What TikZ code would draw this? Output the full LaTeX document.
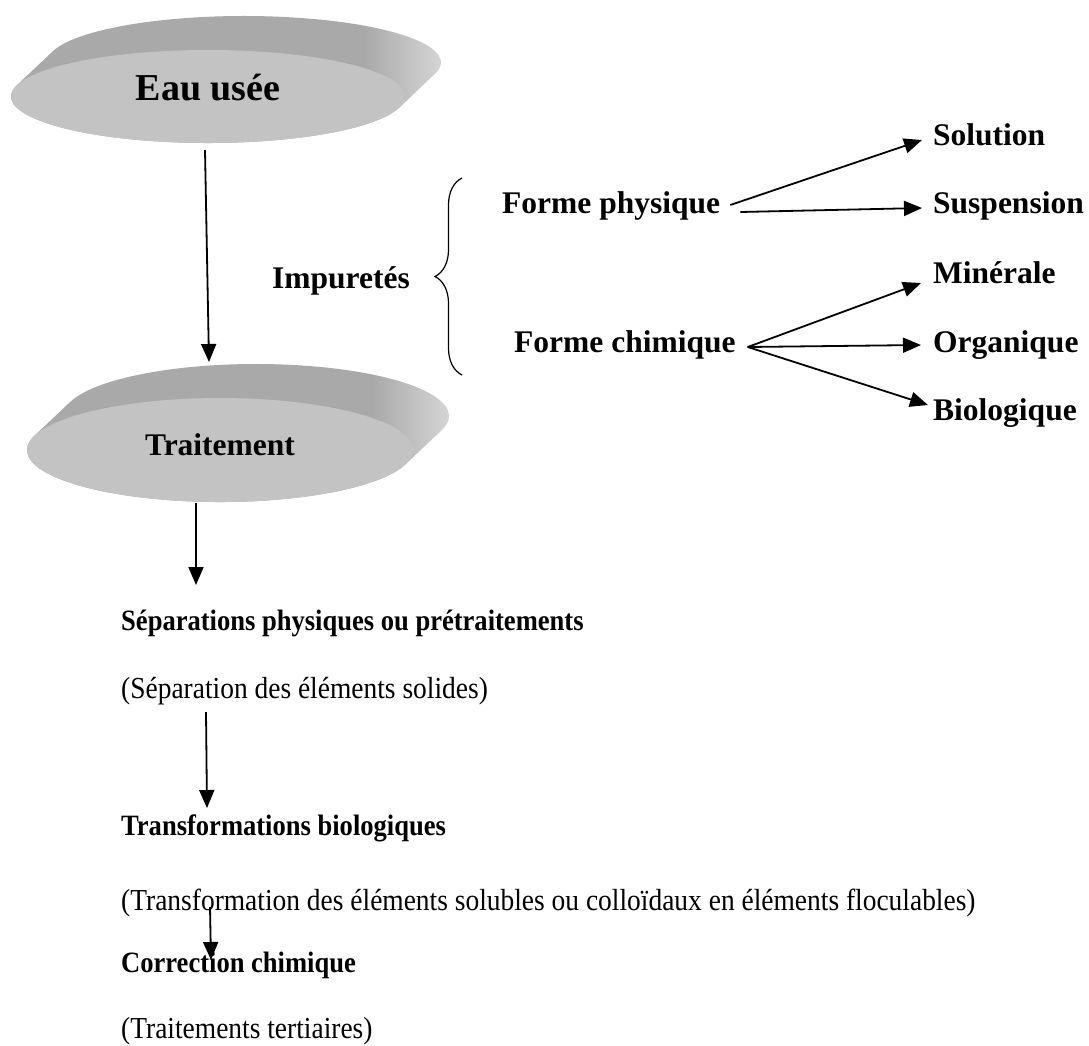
\documentclass[tikz,border=0pt]{standalone}
\usepackage{fontspec}
\setmainfont{Liberation Serif}
\newfontfamily\serre[FakeStretch=0.9]{Liberation Serif}
\usetikzlibrary{arrows.meta}
\usetikzlibrary{decorations.pathreplacing}
\definecolor{grisbord}{HTML}{A9A9A9}
\definecolor{grisclair}{HTML}{DADADA}
\definecolor{grisdessus}{HTML}{C3C3C3}
% disque en relief : centre x, centre y, rayon x, rayon y
\newcommand{\disque}[4]{%
  \pgfmathsetmacro\angt{atan(-(#4*36)/(#3*34))}
  \pgfmathsetmacro\angb{\angt+180}
  \pgfmathsetmacro\ange{\angt+360}
  \begin{scope}
  \path[clip] (#1,#2) ++(\angb:#3 and #4)
     arc[start angle=\angb, end angle=\ange, x radius=#3, y radius=#4] -- ++(36,34)
     arc[start angle=\angt, end angle=\angb, x radius=#3, y radius=#4] -- cycle;
  \fill[grisbord] (#1-#3-10,#2-#4-10) rectangle (#1+#3-40,#2+#4+50);
  \shade[left color=grisbord, right color=grisclair] (#1+#3-41,#2-#4-10) rectangle (#1+#3+45,#2+#4+50);
  \end{scope}
  \fill[grisdessus] (#1,#2) ellipse[x radius=#3, y radius=#4];
}

\begin{document}
\begin{tikzpicture}[x=1pt,y=1pt,
  fleche/.style={line width=1.8pt,-{Triangle[length=18pt,width=15pt]}},
  etiquette/.style={font=\bfseries\fontsize{31.5}{36}\selectfont, inner sep=0pt, text height=22pt, text depth=6pt, anchor=west},
  corps/.style={font=\serre\fontsize{30.5}{34}\selectfont, inner sep=0pt, anchor=base west},
  corpsgras/.style={font=\serre\bfseries\fontsize{29.5}{34}\selectfont, inner sep=0pt, anchor=base west}]
\useasboundingbox (0,0) rectangle (1089,-1045);

% les deux disques
\disque{208}{-96.5}{197}{46.5}
\disque{220}{-450}{193}{52}
\node[font=\bfseries\fontsize{38}{44}\selectfont, text height=26pt, text depth=7pt] (eau) at (208,-91) {Eau usée};
\node[etiquette, anchor=center] (traitement) at (220,-447) {Traitement};

% impuretes
\node[etiquette] (impuretes) at (272,-280) {Impuretés};
\draw[decorate, decoration={brace, amplitude=27pt}, line width=1.2pt] (462,-375) -- (462,-178);
\node[etiquette] (fphys) at (502,-205) {Forme physique};
\node[etiquette] (fchim) at (514,-344) {Forme chimique};
\node[etiquette] (solution) at (933,-137) {Solution};
\node[etiquette] (suspension) at (933,-205) {Suspension};
\node[etiquette] (minerale) at (933,-275) {Minérale};
\node[etiquette] (organique) at (933,-344) {Organique};
\node[etiquette] (biologique) at (933,-412) {Biologique};

\draw[fleche] ([xshift=10pt]fphys.east) -- ([shift={(-11pt,-3pt)}]solution.west);
\draw[fleche] ([shift={(20pt,-7pt)}]fphys.east) -- ([shift={(-11pt,-3pt)}]suspension.west);
\draw[fleche] ([shift={(12pt,-3pt)}]fchim.east) -- ([shift={(-12pt,-8pt)}]minerale.west);
\draw[fleche] ([shift={(12pt,-3pt)}]fchim.east) -- ([shift={(-12pt,-1pt)}]organique.west);
\draw[fleche] ([shift={(12pt,-3pt)}]fchim.east) -- ([shift={(-5pt,7pt)}]biologique.west);

% etapes du traitement
\node[corpsgras] (sepphys) at (121,-630) {Séparations physiques ou prétraitements};
\node[corps] (sepsol) at (121,-698) {(Séparation des éléments solides)};
\node[corpsgras] (transbio) at (121,-835) {Transformations biologiques};
\node[corps] (transsol) at (121,-910) {(Transformation des éléments solubles ou colloïdaux en éléments floculables)};
\node[corpsgras] (corrchim) at (121,-972) {Correction chimique};
\node[corps] (tertiaire) at (121,-1038) {(Traitements tertiaires)};

\coordinate (eaubas) at (205,-150);
\coordinate (traithaut) at (209,-362);
\coordinate (traitbas) at (196,-503);
\coordinate (sephaut) at (196,-585);
\coordinate (solbas) at (206,-712);
\coordinate (biohaut) at (207,-808);
\coordinate (floc) at (210,-907);
\coordinate (chimhaut) at (211,-960);
\draw[fleche] (eaubas) -- (traithaut);
\draw[fleche] (traitbas) -- (sephaut);
\draw[fleche] (solbas) -- (biohaut);
\draw[fleche] (floc) -- (chimhaut);
\end{tikzpicture}
\end{document}
